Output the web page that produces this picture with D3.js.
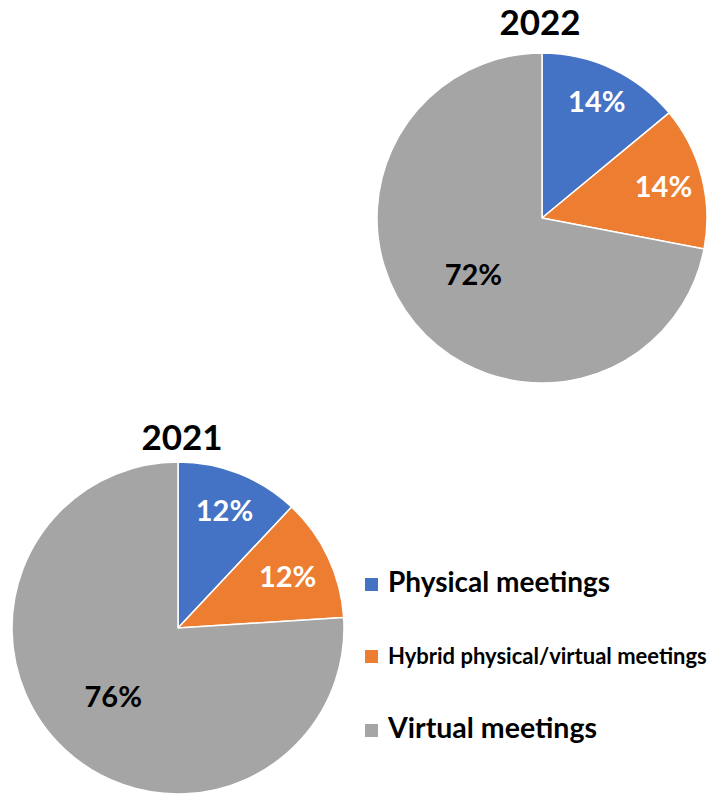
<!DOCTYPE html>
<html>
<head>
<meta charset="utf-8">
<script src="https://cdn.jsdelivr.net/npm/d3@7/dist/d3.min.js"></script>
<style>
  html, body { margin: 0; padding: 0; background: #fff; }
  svg { display: block; }
  text { font-family: Lato, "Open Sans", sans-serif; font-weight: bold; }
</style>
</head>
<body>
<svg id="chart" width="710" height="795"></svg>
<script>
const categories = ["Physical meetings", "Hybrid physical/virtual meetings", "Virtual meetings"];
const years = ["2022", "2021"];
const values2022 = [14, 14, 72];
const values2021 = [12, 12, 76];
const colors = ["#4472C4", "#ED7D31", "#A5A5A5"];

const svg = d3.select("#chart");
const color = d3.scaleOrdinal().domain(categories).range(colors);

const pies = [
  { year: years[0], values: values2022, cx: 542, cy: 218, r: 165, titleX: 540, titleY: 35, labelR: [0.78, 0.76, 0.54] },
  { year: years[1], values: values2021, cx: 178, cy: 628, r: 166, titleX: 182, titleY: 450, labelR: [0.76, 0.73, 0.57] }
];

const pie = d3.pie().sort(null).value(d => d.value);

pies.forEach(p => {
  const data = categories.map((c, i) => ({ cat: c, value: p.values[i] }));
  const arcs = pie(data);
  const arc = d3.arc().innerRadius(0).outerRadius(p.r);
  const g = svg.append("g").attr("transform", `translate(${p.cx},${p.cy})`);
  g.selectAll("path").data(arcs).join("path")
    .attr("d", arc)
    .attr("fill", d => color(d.data.cat))
    .attr("stroke", "#fff")
    .attr("stroke-width", 1.5)
    .attr("stroke-linejoin", "round");
  g.selectAll("text.lbl").data(arcs).join("text")
    .attr("class", "lbl")
    .attr("transform", (d, i) => {
      const lr = p.r * p.labelR[i];
      const la = d3.arc().innerRadius(lr).outerRadius(lr);
      const [x, y] = la.centroid(d);
      return `translate(${x},${y})`;
    })
    .attr("text-anchor", "middle")
    .attr("dy", "0.36em")
    .attr("font-size", 29)
    .attr("fill", (d, i) => i === 2 ? "#000" : "#fff")
    .text(d => d.data.value + "%");
  svg.append("text")
    .attr("x", p.titleX)
    .attr("y", p.titleY)
    .attr("text-anchor", "middle")
    .attr("font-size", 35)
    .attr("fill", "#000")
    .text(p.year);
});

const legendItems = [
  { y: 592, size: 28 },
  { y: 664, size: 22 },
  { y: 738, size: 28.5 }
];
const lg = svg.append("g");
categories.forEach((c, i) => {
  const it = legendItems[i];
  lg.append("rect")
    .attr("x", 365).attr("y", it.y - 14)
    .attr("width", 13).attr("height", 13)
    .attr("fill", color(c));
  lg.append("text")
    .attr("x", 388).attr("y", it.y)
    .attr("font-size", it.size)
    .attr("fill", "#000")
    .text(c);
});
</script>
</body>
</html>
